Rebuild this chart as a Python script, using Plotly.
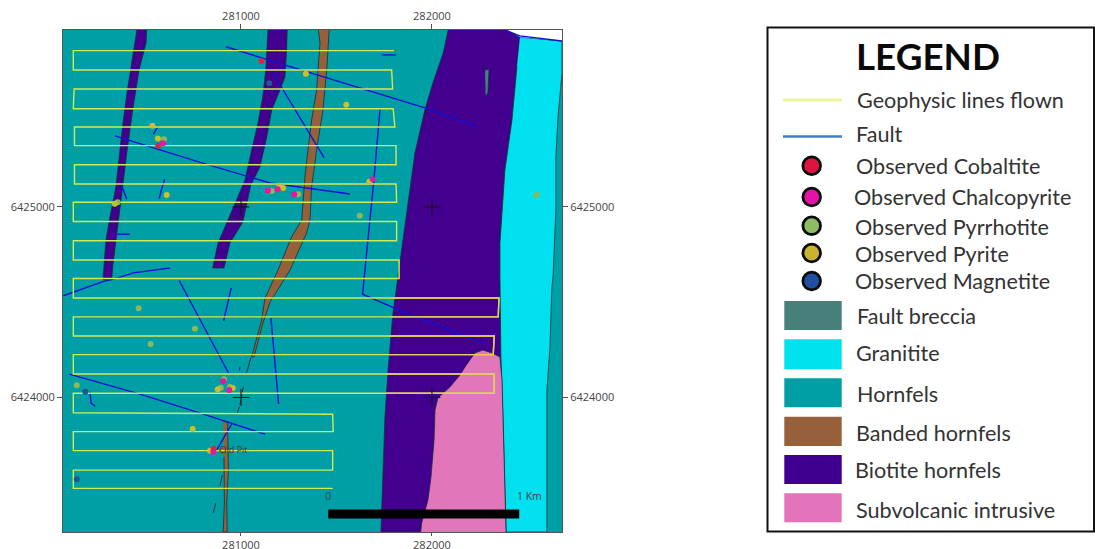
import plotly.graph_objects as go

W, H = 1095, 549

# ---------- axis ticks (map metres) ----------
east_ticks = [281000, 282000]
north_ticks = [6424000, 6425000]
east_range = [280068, 282681]
north_range = [6423294, 6425929]

# ---------- geology polygons (easting / northing) ----------
biotite_main_e = [282085,282059,282005,281963,281911,281885,281859,281827,281796,281770,281754,281733,282388,282372,282361,282356,282356,282382,282419,282445,282461,282393]
biotite_main_n = [6425929,6425808,6425651,6425509,6425283,6425089,6424895,6424654,6424444,6424144,6423898,6423294,6423294,6423882,6424213,6424633,6424811,6425194,6425457,6425735,6425892,6425929]

granite_e = [282461,282681,282681,282660,282649,282649,282634,282628,282618,282602,282602,282388,282372,282361,282356,282356,282382,282419,282445]
granite_n = [6425892,6425871,6425703,6425472,6425262,6424984,6424633,6424580,6424265,6424039,6423294,6423294,6423882,6424213,6424633,6424811,6425194,6425457,6425735]

corner_e = [282393,282681,282681,282461]
corner_n = [6425929,6425929,6425871,6425892]

subvolcanic_e = [281941,281946,281979,281995,282011,282016,282031,282094,282147,282173,282225,282267,282314,282356,282367,282372,282377,282388]
subvolcanic_n = [6423294,6423341,6423462,6423583,6423777,6423934,6423997,6424055,6424118,6424160,6424234,6424249,6424234,6424213,6424092,6423882,6423619,6423294]

breccia_e = [282278,282299,282293,282281]
breccia_n = [6425719,6425722,6425598,6425583]

biotite_west_e = [280455,280435,280403,280382,280366,280345,280314,280293,280277,280323,280328,280345,280366,280381,280402,280433,280466,280503,280506]
biotite_west_n = [6425929,6425808,6425598,6425441,6425283,6425105,6424948,6424827,6424617,6424617,6424685,6424827,6424984,6425126,6425283,6425509,6425719,6425861,6425929]

biotite_mid_e = [281141,281131,281114,281089,281056,281021,280977,280925,280880,280852,280911,280942,281010,281051,281099,281135,281161,281204,281230,281239,281242]
biotite_mid_n = [6425929,6425730,6425577,6425441,6425299,6425142,6425037,6424916,6424811,6424680,6424680,6424811,6424921,6425115,6425210,6425367,6425509,6425614,6425682,6425824,6425929]

banded_north_e = [281405,281414,281396,281370,281351,281335,281318,281265,281194,281126,281108,281056,281068,281115,281152,281257,281344,281361,281370,281396,281429,281449,281462]
banded_north_n = [6425929,6425861,6425614,6425457,6425299,6425157,6424932,6424843,6424669,6424522,6424407,6424213,6424213,6424391,6424501,6424669,6424864,6424932,6425105,6425299,6425509,6425719,6425929]

banded_south_e = [280907,280930,280934,280925,280928,280907,280913,280911]
banded_south_n = [6423873,6423873,6423619,6423446,6423294,6423294,6423446,6423688]

# ---------- geophysic flight lines ----------
flight_e = [281801,280122,280122,281789,281794,280126,280122,281797,281806,280128,280128,281812,281812,280128,280128,281812,281815,280122,280122,281815,281815,280122,280122,281828,281828,280122,280122,282351,282347,280122,280122,282326,282321,280122,280122,282326,282326,280122,280122,281480,281483,280122,280122,281480,281480,280122,280122,281480]
flight_n = [6425821,6425821,6425719,6425719,6425619,6425619,6425516,6425516,6425420,6425420,6425322,6425322,6425222,6425222,6425121,6425121,6425025,6425025,6424924,6424924,6424823,6424823,6424722,6424722,6424625,6424625,6424522,6424522,6424423,6424423,6424323,6424323,6424225,6424225,6424123,6424123,6424022,6424022,6423920,6423912,6423821,6423821,6423721,6423721,6423619,6423619,6423523,6423523]

# eastern ends of the same lines, where they cross the darker units
flight_east_e = [281790,282351,282347,281785,None,281775,282326,282321,281775,None,281765,282326,282326,281762]
flight_east_n = [6424522,6424522,6424423,6424423,None,6424323,6424323,6424225,6424225,None,6424123,6424123,6424022,6424022]

# ---------- faults (None separates segments) ----------
fault_e = [280921,281665,281963,282225,None,
           281168,281221,281435,None,
           280340,280812,281152,281518,281571,None,
           280541,280567,None,
           280571,280600,None,
           280375,280402,None,
           280352,280419,None,
           280628,280436,280358,280277,280070,None,
           280677,280776,280934,None,
           280949,280909,None,
           281157,281197,None,
           280101,280471,280803,281126,None,
           280209,280215,280237,None,
           280951,280873,None,
           281737,281812,None,
           281728,281696,281644,281637,281868,282260,None,
           282393,282461,282681]
fault_n = [6425841,6425614,6425520,6425427,None,
           6425710,6425614,6425259,None,
           6425373,6425226,6425126,6425075,6425068,None,
           6425382,6425425,None,
           6425044,6425147,None,
           6425112,6425040,None,
           6424857,6424857,None,
           6424680,6424654,6424629,6424608,6424534,None,
           6424613,6424424,6424130,None,
           6424575,6424403,None,
           6424417,6423966,None,
           6424123,6424018,6423913,6423808,None,
           6424030,6423970,6423955,None,
           6423861,6423724,None,
           6425798,6425798,None,
           6425513,6425142,6424617,6424542,6424442,6424288,None,
           6425925,6425898,6425871]

# ---------- short black contact fragments ----------
contact_e = [281051,281030,None,281012,280995,None,280991,280981,None,280995,280992,None,280902,280890,None,280868,280855]
contact_n = [6424207,6424130,None,6424057,6423961,None,6423952,6423919,None,6424162,6424144,None,6423593,6423536,None,6423445,6423395]

# ---------- observations ----------
pyrrhotite_e = [280597,280354,281161,281300,281622,282548,280464,280759,280527,280140,280894,280911,280942]
pyrrhotite_n = [6425355,6425025,6425084,6425067,6424954,6425063,6424468,6424361,6424281,6424064,6424051,6424096,6424057]
pyrite_e = [281340,280536,280565,280611,280339,281201,281221,281551,281672,280878,280747,280838,280957]
pyrite_n = [6425700,6425427,6425359,6425063,6425017,6425112,6425100,6425537,6425133,6424043,6423835,6423721,6424050]
magnetite_e = [281148,280185,280140]
magnetite_n = [6425649,6424030,6423571]
cobaltite_e = [281108,280567,280857]
cobaltite_n = [6425766,6425322,6423730]
chalcopyrite_e = [280592,281141,281192,281279,281690,280907,280939,280855]
chalcopyrite_n = [6425334,6425086,6425093,6425065,6425145,6424085,6424039,6423714]

old_pit_e = [280904]
old_pit_n = [6423719]
old_pit_label_e = [280961]
old_pit_label = ["Old Pit"]

scale_e = [281457, 282457]
scale_n = [6423388, 6423388]
scale_label_e = [281457, 282445]
scale_label_n = [6423474, 6423474]
scale_labels = ["0", "1 Km"]

# ---------- legend text ----------
line_legend = ["Geophysic lines flown", "Fault"]
point_legend = ["Observed Cobaltite", "Observed Chalcopyrite", "Observed Pyrrhotite", "Observed Pyrite", "Observed Magnetite"]
area_legend = ["Fault breccia", "Granitite", "Hornfels", "Banded hornfels", "Biotite hornfels", "Subvolcanic intrusive"]

# ---------- styles ----------
C_HORN, C_GRAN, C_BIOT, C_BAND, C_SUBV, C_BREC = "#009FA5", "#00E0EE", "#43008F", "#96603A", "#E276BA", "#47807A"
C_FLIGHT, C_FLIGHT_EAST, C_FAULT = "#CFEA55", "#E8C860", "#1212D2"
C_CONTACT = "#10303A"
MAP_FONT = "Open Sans"
LEG_FONT = "Lato"


def px_x(v):
    return v / W


def px_y(v):
    return 1 - v / H


fig = go.Figure()


def poly(e, n, color, name, line_w=0.8):
    fig.add_trace(go.Scatter(x=e, y=n, mode="lines", fill="toself", fillcolor=color, name=name,
                             line=dict(color=C_CONTACT, width=line_w), hoverinfo="name"))


poly(biotite_main_e, biotite_main_n, C_BIOT, "Biotite hornfels")
poly(granite_e, granite_n, C_GRAN, "Granitite")
fig.add_trace(go.Scatter(x=corner_e, y=corner_n, mode="lines", fill="toself", fillcolor="white",
                         line=dict(width=0), name="Outside map", hoverinfo="skip"))
poly(subvolcanic_e, subvolcanic_n, C_SUBV, "Subvolcanic intrusive")
poly(breccia_e, breccia_n, C_BREC, "Fault breccia")
poly(biotite_west_e, biotite_west_n, C_BIOT, "Biotite hornfels")
poly(biotite_mid_e, biotite_mid_n, C_BIOT, "Biotite hornfels")
poly(banded_north_e, banded_north_n, C_BAND, "Banded hornfels")
poly(banded_south_e, banded_south_n, C_BAND, "Banded hornfels")

fig.add_trace(go.Scatter(x=contact_e, y=contact_n, mode="lines", name="Contact",
                         line=dict(color=C_CONTACT, width=1)))
fig.add_trace(go.Scatter(x=fault_e, y=fault_n, mode="lines", name="Fault",
                         line=dict(color=C_FAULT, width=1.4)))
fig.add_trace(go.Scatter(x=flight_e, y=flight_n, mode="lines", name="Geophysic lines flown",
                         line=dict(color=C_FLIGHT, width=1.4)))
fig.add_trace(go.Scatter(x=flight_east_e, y=flight_east_n, mode="lines", name="Geophysic lines flown",
                         line=dict(color=C_FLIGHT_EAST, width=1.4)))


def pts(e, n, color, name, opacity=1.0):
    fig.add_trace(go.Scatter(x=e, y=n, mode="markers", name=name, opacity=opacity,
                             marker=dict(size=6, color=color, line=dict(width=0))))


pts(pyrrhotite_e, pyrrhotite_n, "#8DB85A", "Observed Pyrrhotite")
pts(pyrite_e, pyrite_n, "#C8C02C", "Observed Pyrite")
pts(magnetite_e, magnetite_n, "#24568F", "Observed Magnetite")
pts(cobaltite_e, cobaltite_n, "#E0204C", "Observed Cobaltite")
pts(chalcopyrite_e, chalcopyrite_n, "#E418A4", "Observed Chalcopyrite")

fig.add_trace(go.Scatter(x=old_pit_e, y=old_pit_n, mode="markers", name="Old Pit",
                         marker=dict(size=6, color="rgba(0,0,0,0)", line=dict(color="#D93030", width=1))))
fig.add_trace(go.Scatter(x=old_pit_label_e, y=old_pit_n, mode="text", text=old_pit_label, name="Old Pit",
                         textposition="middle center", textfont=dict(family=MAP_FONT, size=9, color="#3a3a3a")))

# grid crosses at the tick intersections
cross_e = [e for e in east_ticks for _ in north_ticks]
cross_n = [n for _ in east_ticks for n in north_ticks]
fig.add_trace(go.Scatter(x=cross_e, y=cross_n, mode="markers", name="Grid",
                         marker=dict(symbol="cross-thin", size=12, line=dict(color="#111111", width=1))))

# scale bar
fig.add_trace(go.Scatter(x=scale_e, y=scale_n, mode="lines", name="Scale",
                         line=dict(color="black", width=9)))
fig.add_trace(go.Scatter(x=scale_label_e, y=scale_label_n, mode="text", text=scale_labels,
                         textposition=["middle center", "middle right"],
                         textfont=dict(family=MAP_FONT, size=10.5, color="#444444"), name="Scale label"))

# mirror axes (top / right tick labels)
fig.add_trace(go.Scatter(x=[], y=[], xaxis="x2", yaxis="y2", showlegend=False))

axis_common = dict(ticks="outside", tickwidth=1, tickcolor="#555555", linecolor="#555555", linewidth=1,
                   showgrid=False, zeroline=False, tickfont=dict(family=MAP_FONT, size=11, color="#444444"),
                   tickformat="d", automargin=False)
x_dom = [px_x(63), px_x(562)]
y_dom = [px_y(532), px_y(30)]

shapes = [dict(type="rect", xref="paper", yref="paper", x0=px_x(767.5), x1=px_x(1094), y0=px_y(531.5), y1=px_y(27.5),
               line=dict(color="#111111", width=2), fillcolor="white", layer="below")]
annotations = [dict(text="<b>LEGEND</b>", xref="paper", yref="paper", x=px_x(928), y=px_y(56), showarrow=False,
                    font=dict(family=LEG_FONT, size=36.8, color="#0a0a0a"), xanchor="center", yanchor="middle")]


def label(text, x, y):
    annotations.append(dict(text=text, xref="paper", yref="paper", x=px_x(x - 2), y=px_y(y), showarrow=False,
                            xanchor="left", yanchor="middle", font=dict(family=LEG_FONT, size=21.6, color="#333333")))


line_styles = [(100, "#EEF59C", 3), (136.5, "#3C80C4", 2.5)]
line_text_y = [100, 134]
line_text_x = [856.5, 856]
for txt, (y, c, w), ty, tx in zip(line_legend, line_styles, line_text_y, line_text_x):
    shapes.append(dict(type="line", xref="paper", yref="paper", x0=px_x(783), x1=px_x(842), y0=px_y(y), y1=px_y(y),
                       line=dict(color=c, width=w)))
    label(txt, tx, ty)

point_styles = [(165.7, "#DC1440"), (197, "#E611A6"), (225.7, "#8FBC62"), (253, "#C9B431"), (281, "#1E4FA0")]
point_text_y = [165.7, 197, 227, 254, 281]
point_text_x = [855.5, 854, 854.5, 854.5, 854.5]
for txt, (y, c), ty, tx in zip(point_legend, point_styles, point_text_y, point_text_x):
    r = 8.8
    shapes.append(dict(type="circle", xref="paper", yref="paper", x0=px_x(811.7 - r), x1=px_x(811.7 + r),
                       y0=px_y(y + r), y1=px_y(y - r), fillcolor=c, line=dict(color="#0a0a0a", width=2.8)))
    label(txt, tx, ty)

area_styles = [(301, 330, C_BREC), (339.3, 369.3, "#00E1EE"), (378.3, 407.3, C_HORN),
               (416.7, 446, C_BAND), (455, 484, "#40008F"), (493.3, 522.3, "#E374BC")]
area_text_y = [315.7, 352.7, 394, 432.7, 470, 510]
area_text_x = [857, 856, 857, 856, 855, 856]
for txt, (y0, y1, c), ty, tx in zip(area_legend, area_styles, area_text_y, area_text_x):
    shapes.append(dict(type="rect", xref="paper", yref="paper", x0=px_x(784.3), x1=px_x(841.7), y0=px_y(y1), y1=px_y(y0),
                       fillcolor=c, line=dict(width=0)))
    label(txt, tx, ty)

fig.update_layout(
    width=W, height=H, margin=dict(l=0, r=0, t=0, b=0),
    paper_bgcolor="white", plot_bgcolor=C_HORN, showlegend=False,
    hovermode="closest", shapes=shapes, annotations=annotations,
    xaxis=dict(domain=x_dom, range=east_range, tickvals=east_ticks, mirror=True, side="bottom", ticklen=3, **axis_common),
    yaxis=dict(domain=y_dom, range=north_range, tickvals=north_ticks, mirror=True, side="left", ticklen=5, **axis_common),
    xaxis2=dict(domain=x_dom, range=east_range, tickvals=east_ticks, side="top", overlaying="x", anchor="y2", ticklen=5, **axis_common),
    yaxis2=dict(domain=y_dom, range=north_range, tickvals=north_ticks, side="right", overlaying="y", anchor="x2", ticklen=5, **axis_common),
)

page_fix = (
    "var s=document.createElement('style');"
    "s.textContent='html,body{margin:0;padding:0;height:549px;overflow:hidden}"
    "body>div{height:549px;overflow:hidden;font-size:0;line-height:0}"
    ".plotly-graph-div{display:block}';"
    "document.head.appendChild(s);"
)
fig.write_html("out.html", config={"displayModeBar": False}, post_script=page_fix)
